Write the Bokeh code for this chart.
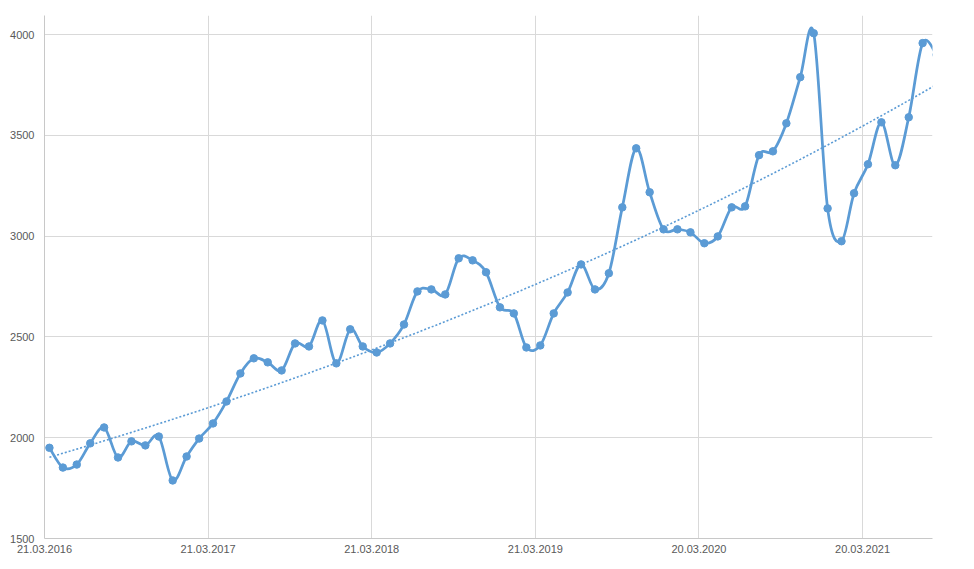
import numpy as np
import pandas as pd
from bokeh.plotting import figure
from bokeh.models import Range1d, FixedTicker, DatetimeTickFormatter
from bokeh.embed import file_html
from bokeh.resources import INLINE

# Monthly observations (first of month); the last one lies just beyond the visible axis end
months = [
    "2016-04", "2016-05", "2016-06", "2016-07", "2016-08", "2016-09", "2016-10", "2016-11", "2016-12",
    "2017-01", "2017-02", "2017-03", "2017-04", "2017-05", "2017-06", "2017-07", "2017-08", "2017-09",
    "2017-10", "2017-11", "2017-12",
    "2018-01", "2018-02", "2018-03", "2018-04", "2018-05", "2018-06", "2018-07", "2018-08", "2018-09",
    "2018-10", "2018-11", "2018-12",
    "2019-01", "2019-02", "2019-03", "2019-04", "2019-05", "2019-06", "2019-07", "2019-08", "2019-09",
    "2019-10", "2019-11", "2019-12",
    "2020-01", "2020-02", "2020-03", "2020-04", "2020-05", "2020-06", "2020-07", "2020-08", "2020-09",
    "2020-10", "2020-11", "2020-12",
    "2021-01", "2021-02", "2021-03", "2021-04", "2021-05", "2021-06", "2021-07", "2021-08", "2021-09",
]
values = [
    1950, 1852, 1867, 1972, 2051, 1902, 1982, 1962, 2006,
    1788, 1907, 1996, 2071, 2180, 2319, 2394, 2374, 2334, 2468, 2453, 2582,
    2369, 2538, 2453, 2423, 2468, 2562, 2726, 2736, 2711, 2890, 2880, 2821,
    2647, 2617, 2448, 2458, 2617, 2721, 2860, 2736, 2816, 3143, 3436, 3218,
    3034, 3034, 3019, 2965, 2999, 3143, 3148, 3402, 3421, 3560, 3789, 4007,
    3138, 2975, 3213, 3357, 3565, 3352, 3590, 3958, 3900,
]
tick_dates = ["2016-03-21", "2017-03-21", "2018-03-21", "2019-03-21", "2020-03-20", "2021-03-20"]
y_ticks = [1500, 2000, 2500, 3000, 3500, 4000]
x_start, x_end = "2016-03-21", "2021-08-23"
y_start, y_end = 1500, 4095

COLOR = "#5B9BD5"
GRID = "#D9D9D9"
AXIS = "#C8C8C8"
TEXT = "#595959"
FONT = "Liberation Sans"


def ms(s):
    return pd.Timestamp(s).value / 1e6


x = np.array([ms(m + "-01") for m in months])
y = np.array(values, dtype=float)
n = len(x)

# Smoothed line (Excel style) drawn as cubic Bezier segments through the points
xp = np.concatenate([[x[0]], x, [x[-1]]])
yp = np.concatenate([[y[0]], y, [y[-1]]])
cx0 = x[:-1] + (xp[2:n + 1] - xp[0:n - 1]) / 6.0
cy0 = y[:-1] + (yp[2:n + 1] - yp[0:n - 1]) / 6.0
cx1 = x[1:] - (xp[3:n + 2] - xp[1:n]) / 6.0
cy1 = y[1:] - (yp[3:n + 2] - yp[1:n]) / 6.0

# Exponential trend line fitted to the data
days = (x - x[0]) / 86400000.0
b, a = np.polyfit(days, np.log(y), 1)
trend = np.exp(a + b * days)

p = figure(
    width=966, height=561,
    x_axis_type="datetime",
    x_range=Range1d(ms(x_start), ms(x_end)),
    y_range=Range1d(y_start, y_end),
    output_backend="svg", toolbar_location=None,
    min_border_left=44, min_border_right=34, min_border_top=15, min_border_bottom=23,
)
p.outline_line_color = None
p.background_fill_color = "white"
p.border_fill_color = "white"

p.line(x, trend, line_color=COLOR, line_width=1.6, line_dash="2 2")
p.bezier(x0=x[:-1], y0=y[:-1], x1=x[1:], y1=y[1:], cx0=cx0, cy0=cy0, cx1=cx1, cy1=cy1,
         line_color=COLOR, line_width=2.75, line_cap="round")
p.scatter(x, y, size=7.5, marker="circle", fill_color=COLOR, line_color=COLOR)

fmt = "%d.%m.%Y"
p.xaxis.ticker = FixedTicker(ticks=[ms(d) for d in tick_dates])
p.xaxis.formatter = DatetimeTickFormatter(
    microseconds=fmt, milliseconds=fmt, seconds=fmt, minsec=fmt, minutes=fmt,
    hourmin=fmt, hours=fmt, days=fmt, months=fmt, years=fmt)
p.yaxis.ticker = FixedTicker(ticks=y_ticks)

for ax in (p.xaxis, p.yaxis):
    ax.axis_line_color = AXIS
    ax.axis_line_width = 1
    ax.major_tick_line_color = None
    ax.minor_tick_line_color = None
    ax.major_tick_out = 0
    ax.major_tick_in = 0
    ax.minor_tick_out = 0
    ax.major_label_text_font = FONT
    ax.major_label_text_font_size = "11px"
    ax.major_label_text_color = TEXT
p.yaxis.major_label_standoff = 10
p.xaxis.major_label_standoff = 6

p.xgrid.grid_line_color = GRID
p.ygrid.grid_line_color = GRID
p.xgrid.ticker = p.xaxis.ticker
p.ygrid.ticker = p.yaxis.ticker

open("out.html", "w").write(file_html(p, INLINE))
